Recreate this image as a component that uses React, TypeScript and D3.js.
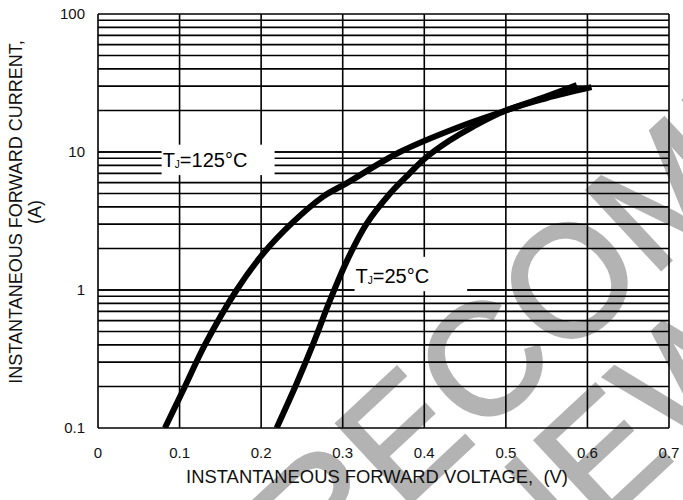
import React, { useEffect, useRef } from 'react';
import * as d3 from 'd3';

const WIDTH = 683;
const HEIGHT = 500;
// plot box in page pixels
const PLOT = { left: 98, right: 669, top: 14, bottom: 428 };

// forward voltage (V) / forward current (A)
const vf125 = [0.082, 0.1066, 0.131, 0.17, 0.203, 0.239, 0.276, 0.305, 0.37, 0.44, 0.5, 0.55, 0.587];
const if125 = [0.1, 0.2, 0.4, 1.0, 1.85, 3.1, 4.75, 5.95, 10.0, 15.0, 20.0, 25.3, 30.5];
const vf25 = [0.219, 0.2435, 0.264, 0.284, 0.305, 0.329, 0.358, 0.382, 0.4, 0.43, 0.46, 0.5, 0.55, 0.605];
const if25 = [0.1, 0.21, 0.41, 0.83, 1.62, 3.0, 5.0, 7.0, 8.9, 12.0, 15.3, 20.0, 24.6, 29.5];

const xTicks = [0, 0.1, 0.2, 0.3, 0.4, 0.5, 0.6, 0.7];
const yTicks = [0.1, 1, 10, 100];
const yTickLabels = ['0.1', '1', '10', '100'];

const FONT = '"Liberation Sans", Arial, sans-serif';

const App: React.FC = () => {
    const svgRef = useRef<SVGSVGElement>(null);

    useEffect(() => {
        if (!svgRef.current) return;
        const svg = d3.select(svgRef.current);
        svg.selectAll('*').remove();

        const x = d3.scaleLinear().domain([0, 0.7]).range([PLOT.left, PLOT.right]);
        const y = d3.scaleLog().domain([0.1, 100]).range([PLOT.bottom, PLOT.top]);

        // watermark behind everything
        const wm = svg.append('g')
            .style('fill', '#b3b3b3').style('stroke', '#b3b3b3').style('stroke-width', 3)
            .style('font-family', FONT).style('font-size', '158px');
        wm.append('g').attr('transform', 'translate(484,358) rotate(-43)')
            .append('text').attr('x', -654).attr('y', 56).text('NOT RECOMMENDED');
        wm.append('g').attr('transform', 'translate(600,452) rotate(-43)')
            .append('text').attr('x', -544).attr('y', 56).text('FOR NEW DESIGN');

        // horizontal grid: every 1..9 in each decade
        const hLines: number[] = [];
        [0.1, 1, 10].forEach(dec => {
            for (let k = 1; k <= 10; k++) hLines.push(dec * k);
        });
        svg.append('g').selectAll('line').data(hLines).enter().append('line')
            .attr('x1', PLOT.left).attr('x2', PLOT.right)
            .attr('y1', d => y(d)).attr('y2', d => y(d))
            .attr('stroke', '#000').attr('stroke-width', 1.6);

        svg.append('g').selectAll('line').data(xTicks).enter().append('line')
            .attr('x1', d => x(d)).attr('x2', d => x(d))
            .attr('y1', PLOT.top).attr('y2', PLOT.bottom)
            .attr('stroke', '#000').attr('stroke-width', 1.6);

        // curves
        svg.append('clipPath').attr('id', 'plotClip').append('rect')
            .attr('x', PLOT.left).attr('y', PLOT.top)
            .attr('width', PLOT.right - PLOT.left).attr('height', PLOT.bottom - PLOT.top);

        const line = d3.line<[number, number]>()
            .x(d => x(d[0])).y(d => y(d[1]))
            .curve(d3.curveCatmullRom.alpha(0.5));

        const curves = [
            { vf: vf125, i: if125 },
            { vf: vf25, i: if25 },
        ];
        curves.forEach(c => {
            svg.append('path')
                .datum(c.vf.map((v, k) => [v, c.i[k]] as [number, number]))
                .attr('d', line)
                .attr('clip-path', 'url(#plotClip)')
                .attr('fill', 'none')
                .attr('stroke', '#000')
                .attr('stroke-width', 6);
        });

        // curve labels with white boxes
        const labels = [
            { x0: 0.078, x1: 0.2165, yTop: 11.3, yBot: 6.8, text: '125°C' },
            { x0: 0.3145, x1: 0.4525, yTop: 1.74, yBot: 0.98, text: '25°C' },
        ];
        labels.forEach(lb => {
            svg.append('rect')
                .attr('x', x(lb.x0)).attr('y', y(lb.yTop))
                .attr('width', x(lb.x1) - x(lb.x0)).attr('height', y(lb.yBot) - y(lb.yTop))
                .attr('fill', '#fff');
            const t = svg.append('text')
                .attr('x', x(lb.x0) + 1)
                .attr('y', y(lb.yBot) - 8)
                .style('font-family', FONT).style('font-size', '20px').style('fill', '#000');
            t.append('tspan').text('T');
            t.append('tspan').attr('dy', 1).style('font-size', '10px').text('J');
            t.append('tspan').attr('dy', -1).text('=' + lb.text);
        });

        // tick labels
        svg.append('g').selectAll('text').data(xTicks).enter().append('text')
            .attr('x', d => x(d)).attr('y', PLOT.bottom + 30)
            .attr('text-anchor', 'middle')
            .style('font-family', FONT).style('font-size', '15px').style('fill', '#111')
            .text(d => String(d));

        svg.append('g').selectAll('text').data(yTicks).enter().append('text')
            .attr('x', PLOT.left - 13).attr('y', d => y(d)).attr('dy', '0.35em')
            .attr('text-anchor', 'end')
            .style('font-family', FONT).style('font-size', '15px').style('fill', '#111')
            .text((d, k) => yTickLabels[k]);

        // axis titles
        svg.append('text')
            .attr('x', 377).attr('y', 483)
            .attr('text-anchor', 'middle')
            .style('white-space', 'pre')
            .style('font-family', FONT).style('font-size', '18.4px').style('fill', '#111')
            .text('INSTANTANEOUS FORWARD VOLTAGE,  (V)');

        const yt = svg.append('g').attr('transform', 'translate(0,212) rotate(-90)');
        yt.append('text').attr('x', 0).attr('y', 22)
            .attr('text-anchor', 'middle')
            .style('font-family', FONT).style('font-size', '18px').style('fill', '#111')
            .text('INSTANTANEOUS FORWARD CURRENT,');
        yt.append('text').attr('x', 0).attr('y', 41)
            .attr('text-anchor', 'middle')
            .style('font-family', FONT).style('font-size', '18px').style('fill', '#111')
            .text('(A)');
    }, []);

    return (
        <svg
            ref={svgRef}
            width={WIDTH}
            height={HEIGHT}
            style={{ position: 'absolute', left: 0, top: 0, background: '#fff' }}
        />
    );
};

export default App;
